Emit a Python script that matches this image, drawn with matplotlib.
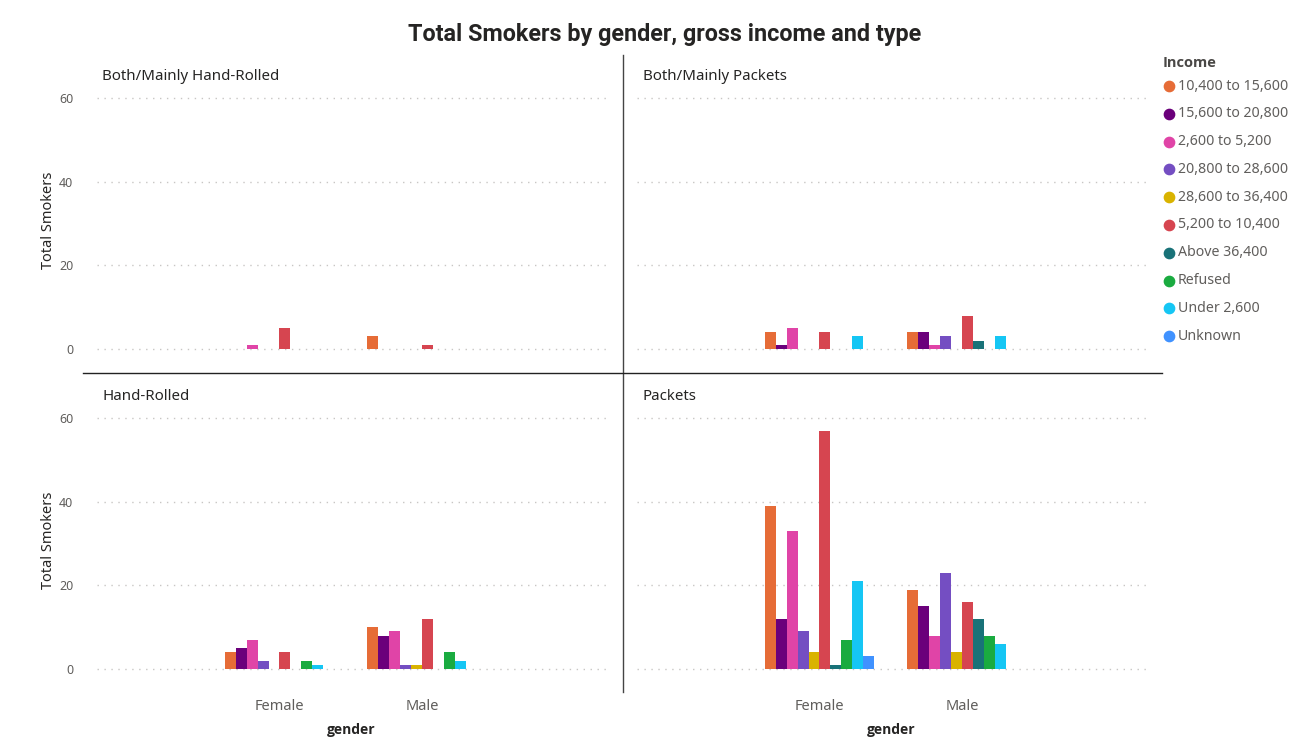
import numpy as np
import matplotlib
matplotlib.use('Agg')
import matplotlib.pyplot as plt

plt.rcParams['font.family'] = ['Noto Sans', 'DejaVu Sans']

# 数据
genders = ['Female', 'Male']
incomes = ['10,400 to 15,600', '15,600 to 20,800', '2,600 to 5,200', '20,800 to 28,600',
           '28,600 to 36,400', '5,200 to 10,400', 'Above 36,400', 'Refused',
           'Under 2,600', 'Unknown']
colors = ['#E66C37', '#6B007B', '#E044A7', '#744EC2', '#D9B300',
          '#D64550', '#197278', '#1AAB40', '#15C6F4', '#4092FF']

# 每个类型：[Female, Male] x 10 个收入段
both_hand_rolled = [[0, 0, 1, 0, 0, 5, 0, 0, 0, 0],
                    [3, 0, 0, 0, 0, 1, 0, 0, 0, 0]]
both_packets = [[4, 1, 5, 0, 0, 4, 0, 0, 3, 0],
                [4, 4, 1, 3, 0, 8, 2, 0, 3, 0]]
hand_rolled = [[4, 5, 7, 2, 0, 4, 0, 2, 1, 0],
               [10, 8, 9, 1, 1, 12, 0, 4, 2, 0]]
packets = [[39, 12, 33, 9, 4, 57, 1, 7, 21, 3],
           [19, 15, 8, 23, 4, 16, 12, 8, 6, 0]]

panels = [('Both/Mainly Hand-Rolled', both_hand_rolled),
          ('Both/Mainly Packets', both_packets),
          ('Hand-Rolled', hand_rolled),
          ('Packets', packets)]

W, H = 1301, 755
fig = plt.figure(figsize=(W / 100, H / 100), dpi=100)

# 背景层：分隔线和图例
bg = fig.add_axes([0, 0, 1, 1])
bg.set_xlim(0, W)
bg.set_ylim(H, 0)
bg.axis('off')
bg.plot([623, 623], [55, 692], color='#444444', lw=1.0)
bg.plot([83, 1162], [372.5, 372.5], color='#222222', lw=1.0)

grey = '#605E5C'
dark = '#252423'
bold_font = ['Open Sans', 'DejaVu Sans']
ymin, ymax = -0.6, 62
ppu = 251 / 60  # 每单位像素


def add_panel(x0, x1, y_zero):
    ybot = y_zero - ymin * ppu
    ytop = y_zero - ymax * ppu
    return fig.add_axes([x0 / W, 1 - ybot / H, (x1 - x0) / W, (ybot - ytop) / H])


pos = [(97, 606, 349), (637, 1146, 349), (97, 606, 669), (637, 1146, 669)]
sub_pos = [(102, 76), (643, 76), (102, 396), (643, 396)]
bw = 0.077
x = np.arange(len(genders))

for k, (name, data) in enumerate(panels):
    x0, x1, yz = pos[k]
    ax = add_panel(x0, x1, yz)
    vals = np.array(data)
    for i in range(len(incomes)):
        ax.bar(x + (i - 4.5) * bw, vals[:, i], width=bw, color=colors[i], linewidth=0)
    ax.set_xlim(-1.28, 2.29)
    ax.set_ylim(ymin, ymax)
    ax.set_yticks([0, 20, 40, 60])
    for yv in [0, 20, 40, 60]:
        ax.axhline(yv, color='#C8C6C4', lw=1.0, ls=(0, (1, 4)), zorder=0)
    for s in ax.spines.values():
        s.set_visible(False)
    ax.tick_params(length=0)
    if k % 2 == 0:
        ax.tick_params(axis='y', labelsize=9, labelcolor=grey, pad=17)
        ax.set_ylabel('Total Smokers', fontsize=10.5, color=dark, labelpad=2)
    else:
        ax.set_yticklabels([])
    if k >= 2:
        ax.set_xticks(x)
        ax.set_xticklabels(genders)
        ax.tick_params(axis='x', labelsize=10.5, labelcolor=grey, pad=20)
        ax.set_xlabel('gender', fontsize=10, color=dark, fontweight='bold',
                      labelpad=6.5, family=bold_font)
    else:
        ax.set_xticks([])
    ax.patch.set_alpha(0)
    bg.text(sub_pos[k][0], sub_pos[k][1], name, fontsize=10.8, color=dark,
            va='center', ha='left')

fig.text(665 / W, 1 - 35 / H, 'Total Smokers by gender, gross income and type',
         fontsize=16.8, fontweight='bold', color=dark, ha='center', va='center',
         family=['Roboto', 'DejaVu Sans'])

# 图例
bg.text(1163, 63, 'Income', fontsize=10.5, fontweight='bold', color='#4A4846',
        va='center', family=bold_font)
for i, lab in enumerate(incomes):
    yy = 86 + i * 27.8
    bg.scatter([1169], [yy], s=55, color=colors[i], zorder=3)
    bg.text(1178, yy, lab, fontsize=10.2, color=grey, va='center')

fig.savefig('out.png', dpi=100)
